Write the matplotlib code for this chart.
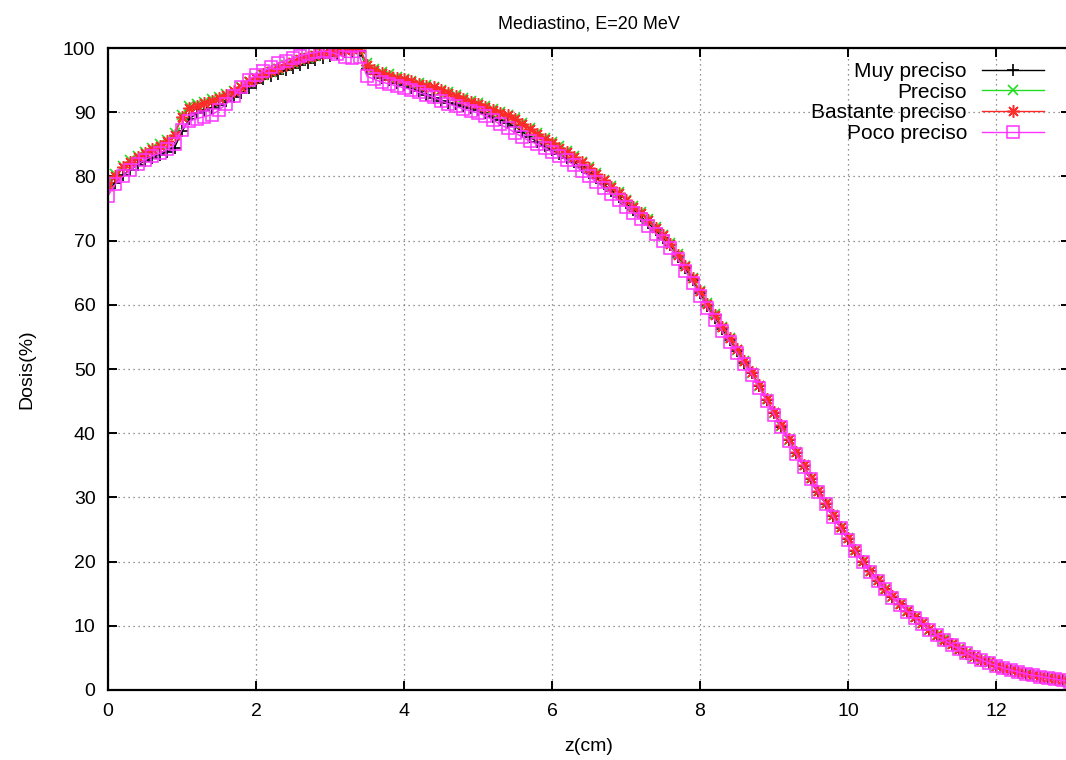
#!/usr/bin/env python3

import numpy as np
import matplotlib
matplotlib.use("Agg")
import matplotlib.pyplot as plt


TITLE = "Mediastino, E=20 MeV"
X_LABEL = "z(cm)"
Y_LABEL = "Dosis(%)"

SERIES_NAMES = ["Muy preciso", "Preciso", "Bastante preciso", "Poco preciso"]

# depth samples (cm)
z = [
    0.0, 0.1, 0.2, 0.3, 0.4, 0.5, 0.6, 0.7, 0.8, 0.9,
    1.0, 1.1, 1.2, 1.3, 1.4, 1.5, 1.6, 1.7, 1.8, 1.9,
    2.0, 2.1, 2.2, 2.3, 2.4, 2.5, 2.6, 2.7, 2.8, 2.9,
    3.0, 3.1, 3.2, 3.3, 3.4, 3.5, 3.6, 3.7, 3.8, 3.9,
    4.0, 4.1, 4.2, 4.3, 4.4, 4.5, 4.6, 4.7, 4.8, 4.9,
    5.0, 5.1, 5.2, 5.3, 5.4, 5.5, 5.6, 5.7, 5.8, 5.9,
    6.0, 6.1, 6.2, 6.3, 6.4, 6.5, 6.6, 6.7, 6.8, 6.9,
    7.0, 7.1, 7.2, 7.3, 7.4, 7.5, 7.6, 7.7, 7.8, 7.9,
    8.0, 8.1, 8.2, 8.3, 8.4, 8.5, 8.6, 8.7, 8.8, 8.9,
    9.0, 9.1, 9.2, 9.3, 9.4, 9.5, 9.6, 9.7, 9.8, 9.9,
    10.0, 10.1, 10.2, 10.3, 10.4, 10.5, 10.6, 10.7, 10.8, 10.9,
    11.0, 11.1, 11.2, 11.3, 11.4, 11.5, 11.6, 11.7, 11.8, 11.9,
    12.0, 12.1, 12.2, 12.3, 12.4, 12.5, 12.6, 12.7, 12.8, 12.9,
    13.0,
]

muy_preciso = [
    78.0, 79.0, 80.2, 81.0, 81.8, 82.4, 82.9, 83.4, 83.8, 84.5,
    87.0, 89.0, 89.8, 90.3, 90.7, 91.1, 91.7, 92.3, 93.0, 93.8,
    94.5, 95.1, 95.6, 96.0, 96.5, 96.9, 97.3, 97.7, 98.1, 98.5,
    98.8, 99.1, 99.3, 99.5, 99.6, 96.8, 96.0, 95.4, 95.0, 94.6,
    94.2, 93.8, 93.3, 92.7, 92.2, 91.8, 91.5, 91.2, 90.9, 90.6,
    90.3, 89.8, 89.3, 88.8, 88.3, 87.8, 86.9, 86.1, 85.4, 84.7,
    84.1, 83.5, 82.8, 82.2, 81.4, 80.6, 79.7, 78.8, 77.8, 76.8,
    75.8, 74.8, 73.8, 72.7, 71.6, 70.4, 69.3, 67.5, 65.7, 63.8,
    61.8, 59.8, 58.0, 56.2, 54.5, 52.8, 51.0, 49.3, 47.3, 45.2,
    43.1, 41.0, 38.9, 36.9, 34.9, 32.9, 30.9, 29.0, 27.1, 25.3,
    23.5, 21.7, 20.0, 18.5, 17.0, 15.7, 14.5, 13.4, 12.3, 11.3,
    10.3, 9.4, 8.6, 7.8, 7.1, 6.4, 5.8, 5.2, 4.7, 4.2,
    3.8, 3.4, 3.1, 2.8, 2.5, 2.3, 2.1, 1.9, 1.7, 1.6,
    1.4,
]

preciso = [
    79.0, 80.3, 81.6, 82.5, 83.2, 83.8, 84.4, 85.0, 85.7, 86.7,
    89.6, 90.9, 91.2, 91.6, 92.0, 92.3, 92.8, 93.3, 94.0, 94.7,
    95.3, 95.8, 96.3, 96.8, 97.3, 97.7, 98.1, 98.5, 98.8, 99.1,
    99.3, 99.5, 99.7, 99.8, 99.9, 97.6, 96.8, 96.3, 95.9, 95.5,
    95.2, 94.9, 94.5, 94.2, 93.9, 93.5, 93.1, 92.7, 92.2, 91.8,
    91.4, 91.0, 90.5, 90.0, 89.6, 89.1, 88.3, 87.5, 86.7, 86.0,
    85.4, 84.7, 83.9, 83.1, 82.3, 81.4, 80.5, 79.5, 78.5, 77.5,
    76.4, 75.4, 74.4, 73.3, 72.1, 70.9, 69.6, 67.9, 66.1, 64.2,
    62.2, 60.3, 58.5, 56.6, 54.8, 53.0, 51.2, 49.4, 47.4, 45.3,
    43.2, 41.1, 39.0, 37.0, 35.0, 33.0, 31.0, 29.1, 27.2, 25.4,
    23.6, 21.8, 20.1, 18.5, 17.1, 15.8, 14.5, 13.4, 12.3, 11.3,
    10.4, 9.4, 8.6, 7.9, 7.1, 6.4, 5.8, 5.2, 4.7, 4.3,
    3.8, 3.4, 3.1, 2.8, 2.5, 2.3, 2.1, 1.9, 1.7, 1.6,
    1.4,
]

bastante_preciso = [
    78.5, 80.0, 81.4, 82.3, 83.0, 83.6, 84.2, 84.8, 85.5, 86.5,
    89.2, 90.6, 91.0, 91.4, 91.8, 92.2, 92.7, 93.3, 94.0, 94.8,
    95.4, 95.9, 96.4, 96.9, 97.4, 97.8, 98.3, 98.6, 98.9, 99.2,
    99.4, 99.6, 99.7, 99.9, 100.0, 97.4, 96.6, 96.1, 95.7, 95.4,
    95.1, 94.8, 94.4, 94.1, 94.0, 93.5, 93.0, 92.5, 92.0, 91.6,
    91.2, 90.8, 90.4, 89.9, 89.5, 89.0, 88.2, 87.4, 86.6, 85.9,
    85.2, 84.5, 83.8, 83.0, 82.2, 81.3, 80.4, 79.4, 78.4, 77.4,
    76.3, 75.3, 74.3, 73.2, 72.0, 70.8, 69.5, 67.8, 66.0, 64.1,
    62.1, 60.2, 58.4, 56.6, 54.8, 53.1, 51.3, 49.5, 47.5, 45.4,
    43.3, 41.2, 39.1, 37.1, 35.0, 33.0, 31.0, 29.1, 27.2, 25.4,
    23.6, 21.8, 20.1, 18.6, 17.1, 15.8, 14.6, 13.4, 12.3, 11.3,
    10.4, 9.5, 8.6, 7.8, 7.1, 6.4, 5.8, 5.3, 4.7, 4.3,
    3.8, 3.4, 3.1, 2.8, 2.5, 2.3, 2.1, 1.9, 1.7, 1.6,
    1.4,
]

poco_preciso = [
    77.0, 78.8, 80.0, 81.0, 81.9, 82.6, 83.2, 83.6, 84.2, 85.0,
    87.3, 88.6, 89.0, 89.3, 89.6, 90.3, 91.3, 92.6, 93.9, 95.0,
    95.8, 96.4, 97.0, 97.6, 98.0, 98.4, 98.8, 99.1, 99.3, 99.5,
    99.4, 99.0, 98.6, 98.5, 98.6, 95.6, 95.1, 94.7, 94.4, 94.1,
    93.8, 93.5, 93.1, 92.7, 92.3, 91.8, 91.3, 90.9, 90.5, 90.2,
    89.9, 89.4, 88.8, 88.1, 87.5, 86.8, 86.1, 85.5, 85.0, 84.4,
    83.8, 83.2, 82.5, 81.7, 80.9, 80.0, 79.1, 78.2, 77.3, 76.3,
    75.3, 74.3, 73.3, 72.2, 71.1, 69.9, 68.8, 67.1, 65.3, 63.4,
    61.4, 59.5, 57.7, 55.9, 54.2, 52.5, 50.8, 49.1, 47.1, 45.0,
    42.9, 40.9, 38.8, 36.8, 34.8, 32.8, 30.8, 28.9, 27.0, 25.2,
    23.4, 21.7, 20.0, 18.4, 17.0, 15.7, 14.4, 13.3, 12.2, 11.2,
    10.3, 9.4, 8.5, 7.8, 7.0, 6.4, 5.8, 5.2, 4.7, 4.2,
    3.8, 3.4, 3.1, 2.8, 2.5, 2.3, 2.1, 1.9, 1.7, 1.5,
    1.3,
]

X_TICKS = [0, 2, 4, 6, 8, 10, 12]
Y_TICKS = [0, 10, 20, 30, 40, 50, 60, 70, 80, 90, 100]


def set_plot_style():
    plt.rcParams.update({
        "font.family": ["Liberation Sans", "DejaVu Sans"],
        "font.size": 14,
        "axes.linewidth": 1.6,
    })


def make_plot():
    set_plot_style()

    fig = plt.figure(figsize=(10.66, 7.6), dpi=100)
    ax = fig.add_axes([108 / 1066, 70 / 760, 962 / 1066, 642 / 760])

    styles = [
        dict(color="black", marker="+", markersize=9, markeredgewidth=1.2),
        dict(color="#22dd22", marker="x", markersize=7, markeredgewidth=1.2),
        dict(color="#ff2a2a", marker=(8, 2, 0), markersize=9, markeredgewidth=1.1),
        dict(color="#ff33ff", marker="s", markersize=9, markeredgewidth=1.1,
             markerfacecolor="none"),
    ]
    series = [muy_preciso, preciso, bastante_preciso, poco_preciso]

    for name, values, st in zip(SERIES_NAMES, series, styles):
        ax.plot(z, values, lw=1.0, label=name, clip_on=True, **st)

    ax.set_xlim(0, 13)
    ax.set_ylim(0, 100)
    ax.set_xticks(X_TICKS)
    ax.set_yticks(Y_TICKS)

    ax.grid(True, color="0.45", linestyle=(0, (1, 3)), linewidth=0.9)
    ax.set_axisbelow(True)

    ax.tick_params(direction="in", length=6.5, width=1.4, top=True, right=True,
                   labelsize=14, pad=9)

    ax.set_title(TITLE, fontsize=13, pad=14)
    ax.set_xlabel(X_LABEL, fontsize=14, labelpad=13)
    ax.set_ylabel(Y_LABEL, fontsize=14, labelpad=20)

    leg = ax.legend(
        loc="upper right",
        bbox_to_anchor=(1044 / 1066, 1 - 62 / 760),
        bbox_transform=fig.transFigure,
        frameon=False,
        markerfirst=False,
        handlelength=3.0,
        handletextpad=0.7,
        labelspacing=0.08,
        borderpad=0,
        borderaxespad=0,
        fontsize=15,
    )
    for t in leg.get_texts():
        t.set_ha("right")

    fig.savefig("out.png", dpi=100)
    plt.close(fig)


def main():
    make_plot()


if __name__ == "__main__":
    main()
